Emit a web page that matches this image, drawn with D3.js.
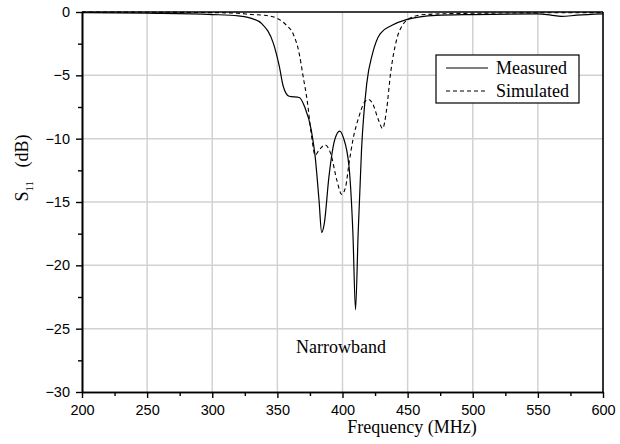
<!DOCTYPE html>
<html>
<head>
<meta charset="utf-8">
<script src="https://cdn.jsdelivr.net/npm/d3@7"></script>
<style>
  body { margin: 0; background: #fff; }
  .tick text { font-family: "Liberation Sans", Arial, sans-serif; font-size: 14.5px; fill: #000; }
  .serif { font-family: "Liberation Serif", "Times New Roman", serif; fill: #000; }
</style>
</head>
<body>
<div id="chart"></div>
<script>
// Frecuencia (MHz) y S11 (dB)
const measuredFreq = [200, 250, 300, 320, 330, 338, 347, 351.5, 354.6, 359, 366.8, 371, 376, 379, 382, 384, 386, 389.6, 394, 397.9, 400.6, 405, 408, 410, 412, 414.6, 418.6, 423, 429, 438, 449, 472, 500, 550, 560, 568, 580, 600];
const measuredS11 = [-0.05, -0.1, -0.2, -0.3, -0.5, -0.92, -2.5, -4.3, -5.9, -6.65, -6.75, -7.5, -9.3, -11.4, -14.9, -17.4, -16.7, -13, -10.1, -9.4, -9.9, -12.2, -17.5, -23.5, -17.5, -10.9, -5.65, -3.3, -1.7, -1.05, -0.6, -0.26, -0.2, -0.15, -0.25, -0.35, -0.25, -0.15];

const simulatedFreq = [200, 300, 320, 330, 340, 350, 357, 362, 366.8, 369.8, 372.9, 376, 379, 382, 386.6, 391, 395.7, 399.4, 402.4, 405, 408, 412.5, 417, 420, 423, 427.7, 430.8, 433.8, 436.9, 441.5, 446, 453.7, 463, 500, 600];
const simulatedS11 = [0, -0.05, -0.1, -0.2, -0.26, -0.5, -1.05, -1.7, -3.3, -5.1, -7, -9.6, -11.3, -10.9, -10.5, -11.2, -13.3, -14.4, -13.8, -11.95, -10.1, -8.3, -7.1, -6.9, -7.2, -8.55, -9.2, -7.75, -4.85, -2.2, -1.05, -0.4, -0.2, -0.1, -0.05];

const xTicks = [200, 250, 300, 350, 400, 450, 500, 550, 600];
const yTicks = [0, -5, -10, -15, -20, -25, -30];
const legendLabels = ["Measured", "Simulated"];

const width = 620, height = 444;
const margin = { top: 12, right: 17, bottom: 52, left: 82 };

const svg = d3.select("#chart").append("svg")
    .attr("width", width)
    .attr("height", height);

const xScale = d3.scaleLinear()
    .domain([200, 600])
    .range([margin.left, width - margin.right]);

const yScale = d3.scaleLinear()
    .domain([-30, 0])
    .range([height - margin.bottom, margin.top]);

// rejilla
svg.append("g")
    .selectAll("line.vgrid")
    .data(xTicks.slice(1, -1))
    .enter().append("line")
    .attr("x1", d => xScale(d)).attr("x2", d => xScale(d))
    .attr("y1", yScale(0)).attr("y2", yScale(-30))
    .attr("stroke", "#d2d2d2").attr("stroke-width", 1.5);

svg.append("g")
    .selectAll("line.hgrid")
    .data(yTicks.slice(1, -1))
    .enter().append("line")
    .attr("x1", xScale(200)).attr("x2", xScale(600))
    .attr("y1", d => yScale(d)).attr("y2", d => yScale(d))
    .attr("stroke", "#d2d2d2").attr("stroke-width", 1.5);

// ejes
const xAxis = d3.axisBottom(xScale).tickValues(xTicks).tickSize(6).tickPadding(7).tickSizeOuter(0);
const xMinor = d3.axisBottom(xScale).tickValues(d3.range(225, 600, 50)).tickSize(4).tickFormat("").tickSizeOuter(0);
const yAxis = d3.axisLeft(yScale).tickValues(yTicks).tickSize(6).tickPadding(6).tickSizeOuter(0);
const yMinor = d3.axisLeft(yScale).tickValues(d3.range(-27.5, 0, 5)).tickSize(4).tickFormat("").tickSizeOuter(0);

svg.append("g").attr("transform", `translate(0,${yScale(-30)})`).call(xAxis);
svg.append("g").attr("transform", `translate(0,${yScale(-30)})`).call(xMinor);
svg.append("g").attr("transform", `translate(${xScale(200)},0)`).call(yAxis);
svg.append("g").attr("transform", `translate(${xScale(200)},0)`).call(yMinor);

svg.selectAll(".domain").attr("stroke-width", 1.6);
svg.selectAll(".tick line").attr("stroke-width", 1.4);

// marco superior y derecho
svg.append("line")
    .attr("x1", xScale(200)).attr("x2", xScale(600))
    .attr("y1", yScale(0)).attr("y2", yScale(0))
    .attr("stroke", "#000").attr("stroke-width", 1.6);
svg.append("line")
    .attr("x1", xScale(600)).attr("x2", xScale(600))
    .attr("y1", yScale(0)).attr("y2", yScale(-30))
    .attr("stroke", "#000").attr("stroke-width", 1.6);

// curvas
const line = d3.line()
    .x(d => xScale(d[0]))
    .y(d => yScale(d[1]))
    .curve(d3.curveMonotoneX);

svg.append("path")
    .datum(d3.zip(simulatedFreq, simulatedS11))
    .attr("d", line)
    .attr("fill", "none")
    .attr("stroke", "#000")
    .attr("stroke-width", 1.1)
    .attr("stroke-dasharray", "4,3");

svg.append("path")
    .datum(d3.zip(measuredFreq, measuredS11))
    .attr("d", line)
    .attr("fill", "none")
    .attr("stroke", "#000")
    .attr("stroke-width", 1.2);

// leyenda
const legend = svg.append("g").attr("transform", "translate(436,55)");
legend.append("rect")
    .attr("width", 143).attr("height", 48)
    .attr("fill", "#fff").attr("stroke", "#000").attr("stroke-width", 1.2);

legendLabels.forEach((label, i) => {
    const y = 13 + i * 23;
    legend.append("line")
        .attr("x1", 10).attr("x2", 52)
        .attr("y1", y).attr("y2", y)
        .attr("stroke", i === 0 ? "#555" : "#000")
        .attr("stroke-width", i === 0 ? 1.6 : 1.1)
        .attr("stroke-dasharray", i === 0 ? null : "4,3");
    legend.append("text")
        .attr("class", "serif")
        .attr("x", 60).attr("y", y + 6)
        .attr("font-size", 18)
        .text(label);
});

// anotación
svg.append("text")
    .attr("class", "serif")
    .attr("x", 341).attr("y", 353)
    .attr("text-anchor", "middle")
    .attr("font-size", 18)
    .text("Narrowband");

// títulos de ejes
svg.append("text")
    .attr("class", "serif")
    .attr("x", 412).attr("y", 433)
    .attr("text-anchor", "middle")
    .attr("font-size", 18)
    .text("Frequency (MHz)");

const yTitle = svg.append("text")
    .attr("class", "serif")
    .attr("transform", "translate(28,168) rotate(-90)")
    .attr("text-anchor", "middle")
    .attr("font-size", 18);
yTitle.append("tspan").text("S");
yTitle.append("tspan").attr("font-size", 11).attr("dy", 5).text("11");
yTitle.append("tspan").attr("dy", -5).text("\u00a0\u00a0 (dB)");
</script>
</body>
</html>
